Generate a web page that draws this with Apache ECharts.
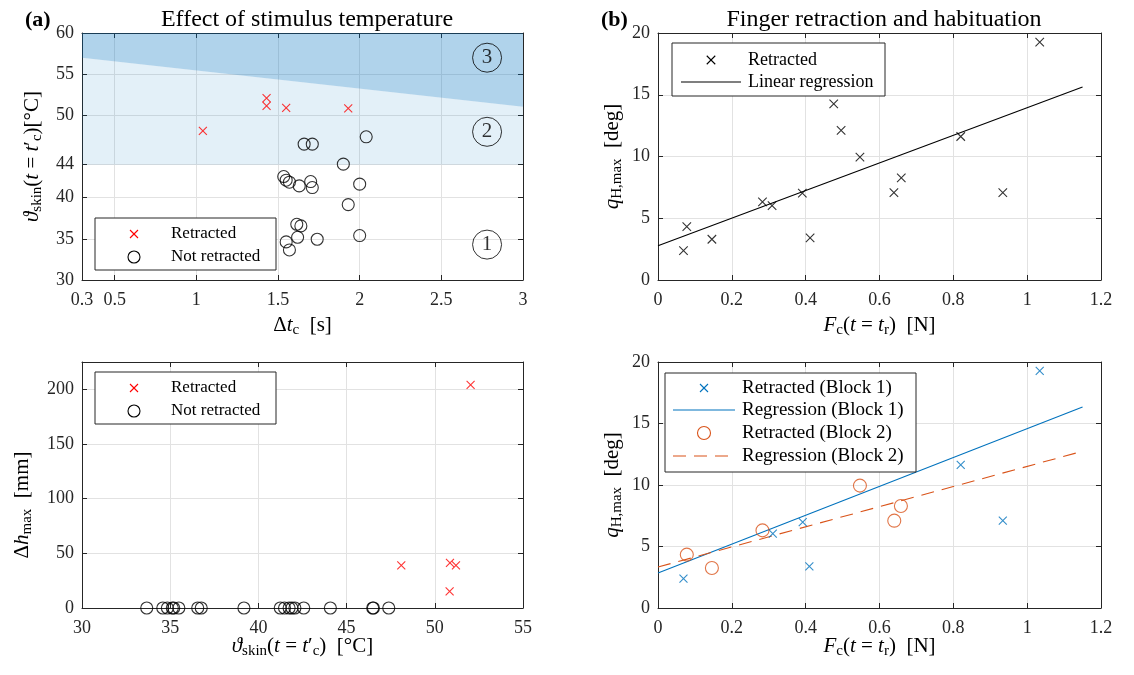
<!DOCTYPE html>
<html><head><meta charset="utf-8">
<script src="https://cdn.jsdelivr.net/npm/echarts@6/dist/echarts.min.js"></script>
<style>html,body{margin:0;padding:0;background:#fff}#c{width:1134px;height:675px}</style>
</head><body><div id="c"></div>
<script>
// ================= DATA =================
// Panel (a) top: effect of stimulus temperature
const aTicksX = [0.3, 0.5, 1, 1.5, 2, 2.5, 3];
const aTicksY = [30, 35, 40, 44, 50, 55, 60];
const aRetDt   = [1.04, 1.43, 1.43, 1.55, 1.93];
const aRetTemp = [48.1, 52.1, 51.15, 50.9, 50.85];
const aNotDt   = [1.66, 1.71, 2.04, 1.90, 1.535, 1.55, 1.57, 1.63, 1.70, 1.71, 2.00, 1.93, 1.615, 1.64, 1.55, 1.57, 1.62, 1.74, 2.00];
const aNotTemp = [46.5, 46.5, 47.39, 44.07, 42.57, 42.12, 41.88, 41.43, 41.96, 41.23, 41.64, 39.16, 36.77, 36.57, 34.63, 33.65, 35.19, 34.95, 35.4];
const zoneFloor = 44;
const zoneCeil = 60;
const zoneBoundaryX = [0.3, 3];
const zoneBoundaryY = [57.0, 51.05];
const zoneLabels = ['1', '2', '3'];
const zoneLabelX = [2.78, 2.78, 2.78];
const zoneLabelY = [34.3, 48.0, 57.0];

// Panel (a) bottom: displacement vs skin temperature
const cTicksX = [30, 35, 40, 45, 50, 55];
const cTicksY = [0, 50, 100, 150, 200];
const cRetTemp = [48.1, 50.86, 51.2, 50.84, 52.03];
const cRetDh   = [39, 41.2, 39, 15.2, 204];
const cNotTemp = [33.67, 34.58, 34.84, 35.12, 35.2, 35.49, 36.56, 36.76, 39.18, 41.24, 41.48, 41.74, 41.9, 42.07, 42.57, 44.08, 46.48, 46.52, 47.39];
const cNotDh   = [0, 0, 0, 0, 0, 0, 0, 0, 0, 0, 0, 0, 0, 0, 0, 0, 0, 0, 0];

// Panel (b) top: finger retraction
const bTicksX = [0, 0.2, 0.4, 0.6, 0.8, 1, 1.2];
const bTicksY = [0, 5, 10, 15, 20];
const bRetF = [0.069, 0.078, 0.146, 0.283, 0.309, 0.391, 0.412, 0.476, 0.496, 0.547, 0.639, 0.659, 0.820, 0.934, 1.034];
const bRetQ = [2.38, 4.32, 3.30, 6.32, 6.03, 7.03, 3.41, 14.27, 12.11, 9.95, 7.08, 8.27, 11.62, 7.08, 19.27];
const bRegF = [0, 1.15];
const bRegQ = [2.78, 15.62];

// Panel (b) bottom: habituation blocks
const dB1F = [0.069, 0.311, 0.392, 0.410, 0.820, 0.934, 1.034];
const dB1Q = [2.38, 6.04, 6.99, 3.39, 11.63, 7.10, 19.27];
const dB2F = [0.078, 0.146, 0.283, 0.547, 0.640, 0.658];
const dB2Q = [4.34, 3.25, 6.31, 9.95, 7.10, 8.29];
const dReg1F = [0, 1.15];
const dReg1Q = [2.85, 16.34];
const dReg2F = [0, 1.15];
const dReg2Q = [3.33, 12.74];

// ================= STYLE =================
const FONT = 'Liberation Serif';
const AX = '#262626';
const GRIDC = '#e2e2e2';
const RED = '#ff0000', BLUE = '#0072bd', ORANGE = '#d95319';
const CROSS = 'path://M0,0L10,10M10,0L0,10';
const zip = (a, b) => a.map((v, i) => [v, b[i]]);

function rich(size) {
  const sub = Math.round(size * 0.7);
  return {
    n: {fontFamily: FONT, fontSize: size, color: '#000', lineHeight: size + 4},
    i: {fontFamily: FONT, fontSize: size, fontStyle: 'italic', color: '#000', lineHeight: size + 4},
    s: {fontFamily: FONT, fontSize: sub, color: '#000', lineHeight: sub, verticalAlign: 'bottom'}
  };
}

function axisPair(kind, grid, min, max, ticks, name, nameGap, namePad) {
  const primaryPos = kind === 'x' ? 'bottom' : 'left';
  const secondaryPos = kind === 'x' ? 'top' : 'right';
  const line = {show: true, onZero: false, lineStyle: {color: AX, width: 1}};
  const tick = {show: true, inside: true, length: 5, customValues: ticks, lineStyle: {color: AX, width: 1}};
  return [
    {type: 'value', gridIndex: grid, position: primaryPos, min, max,
     axisLine: line, axisTick: tick,
     axisLabel: {show: true, customValues: ticks, margin: kind === 'x' ? 11 : 8, color: AX,
                 fontFamily: FONT, fontSize: 18, hideOverlap: false},
     splitLine: {show: true, lineStyle: {color: GRIDC, width: 1}},
     name, nameLocation: 'middle', nameGap, nameMoveOverlap: false,
     nameTextStyle: {fontFamily: FONT, fontSize: 21, color: '#000', rich: rich(21), padding: namePad || 0}},
    {type: 'value', gridIndex: grid, position: secondaryPos, min, max,
     axisLine: line, axisTick: tick, axisLabel: {show: false}, splitLine: {show: false}}
  ];
}

const xAxis = [
  ...axisPair('x', 0, 0.3, 3, aTicksX, '{n|Δ}{i|t}{s|c}{n|  [s]}', 33),
  ...axisPair('x', 1, 0, 1.2, bTicksX, '{i|F}{s|c}{n|(}{i|t}{n| = }{i|t}{s|r}{n|)  [N]}', 33),
  ...axisPair('x', 2, 30, 55, cTicksX, '{i|ϑ}{s|skin}{n|(}{i|t}{n| = }{i|t}{n|′}{s|c}{n|)  [°C]}', 26),
  ...axisPair('x', 3, 0, 1.2, bTicksX, '{i|F}{s|c}{n|(}{i|t}{n| = }{i|t}{s|r}{n|)  [N]}', 26)
];
const yAxis = [
  ...axisPair('y', 0, 30, 60, aTicksY, '{i|ϑ}{s|skin}{n|(}{i|t}{n| = }{i|t}{n|′}{s|c}{n|)[°C]}', 37),
  ...axisPair('y', 1, 0, 20, bTicksY, '{i|q}{s|H,max}{n|  [deg]}', 33),
  ...axisPair('y', 2, 0, 225, cTicksY, '{n|Δ}{i|h}{s|max}{n|  [mm]}', 47, [0, 40, 0, 0]),
  ...axisPair('y', 3, 0, 20, bTicksY, '{i|q}{s|H,max}{n|  [deg]}', 33)
];

function scatter(g, data, symbol, size, color, fill) {
  return {type: 'scatter', xAxisIndex: 2 * g, yAxisIndex: 2 * g, data, symbol, symbolSize: size,
          silent: true, z: 5,
          itemStyle: {color: fill || 'rgba(0,0,0,0)', borderColor: color, borderWidth: 1.1}};
}
function regLine(g, data, color, type) {
  return {type: 'line', xAxisIndex: 2 * g, yAxisIndex: 2 * g, data, symbol: 'none', silent: true, z: 4,
          lineStyle: {color, width: 1.1, type: type || 'solid'}};
}

// zone polygons built from the boundary values
const zonePolys = [
  [[zoneBoundaryX[0], zoneFloor], [zoneBoundaryX[1], zoneFloor], [zoneBoundaryX[1], zoneBoundaryY[1]], [zoneBoundaryX[0], zoneBoundaryY[0]]],
  [[zoneBoundaryX[0], zoneBoundaryY[0]], [zoneBoundaryX[1], zoneBoundaryY[1]], [zoneBoundaryX[1], zoneCeil], [zoneBoundaryX[0], zoneCeil]]
];
const zoneFills = ['rgba(0,114,189,0.11)', 'rgba(0,114,189,0.31)'];

const series = [
  {type: 'custom', xAxisIndex: 0, yAxisIndex: 0, silent: true, z: 1, clip: true,
   data: [[0], [1]],
   renderItem(params, api) {
     const poly = zonePolys[params.dataIndex];
     return {type: 'polygon', shape: {points: poly.map(p => api.coord(p))},
             style: {fill: zoneFills[params.dataIndex]}};
   }},
  {type: 'scatter', xAxisIndex: 0, yAxisIndex: 0, silent: true, z: 3, symbol: 'circle', symbolSize: 29,
   data: zoneLabels.map((t, i) => [zoneLabelX[i], zoneLabelY[i], t]),
   itemStyle: {color: 'rgba(0,0,0,0)', borderColor: '#000', borderWidth: 1},
   label: {show: true, position: 'inside', formatter: p => p.value[2], fontFamily: FONT, fontSize: 21, color: '#000'}},
  scatter(0, zip(aRetDt, aRetTemp), CROSS, 8, RED),
  scatter(0, zip(aNotDt, aNotTemp), 'circle', 12, '#000'),
  scatter(1, zip(bRetF, bRetQ), CROSS, 8.5, '#000'),
  regLine(1, zip(bRegF, bRegQ), '#000'),
  scatter(2, zip(cRetTemp, cRetDh), CROSS, 8, RED),
  scatter(2, zip(cNotTemp, cNotDh), 'circle', 12, '#000'),
  scatter(3, zip(dB1F, dB1Q), CROSS, 8, BLUE),
  regLine(3, zip(dReg1F, dReg1Q), BLUE),
  scatter(3, zip(dB2F, dB2Q), 'circle', 13, ORANGE),
  regLine(3, zip(dReg2F, dReg2Q), ORANGE, [13, 8])
];

// ---------- legends (drawn as graphics) ----------
function legend(box, rows, iconX, lineHalf, textX, fontSize) {
  const Z = 200;
  const els = [{type: 'rect', z: Z, shape: {x: box[0], y: box[1], width: box[2] - box[0], height: box[3] - box[1]},
                style: {fill: '#ffffff', stroke: AX, lineWidth: 1}}];
  rows.forEach(r => {
    const y = r.y;
    if (r.icon === 'x') {
      const h = r.size / 2;
      els.push({type: 'line', z: Z + 1, shape: {x1: iconX - h, y1: y - h, x2: iconX + h, y2: y + h}, style: {stroke: r.color, lineWidth: 1.1}});
      els.push({type: 'line', z: Z + 1, shape: {x1: iconX - h, y1: y + h, x2: iconX + h, y2: y - h}, style: {stroke: r.color, lineWidth: 1.1}});
    } else if (r.icon === 'o') {
      els.push({type: 'circle', z: Z + 1, shape: {cx: iconX, cy: y, r: r.size / 2}, style: {fill: 'none', stroke: r.color, lineWidth: 1.1}});
    } else {
      els.push({type: 'line', z: Z + 1, shape: {x1: iconX - lineHalf, y1: y, x2: iconX + lineHalf, y2: y},
                style: {stroke: r.color, lineWidth: 1.1, lineDash: r.icon === 'dash' ? [13, 8] : null}});
    }
    els.push({type: 'text', z: Z + 1, style: {text: r.text, x: textX, y, fill: '#000', verticalAlign: 'middle',
              font: fontSize + 'px "' + FONT + '"'}});
  });
  return {type: 'group', z: Z, children: els};
}

const graphic = [
  legend([95, 218, 276, 270], [
    {y: 234, icon: 'x', size: 8, color: RED, text: 'Retracted'},
    {y: 257, icon: 'o', size: 12, color: '#000', text: 'Not retracted'}], 134, 20, 171, 17),
  legend([95, 372, 276, 424], [
    {y: 388, icon: 'x', size: 8, color: RED, text: 'Retracted'},
    {y: 411, icon: 'o', size: 12, color: '#000', text: 'Not retracted'}], 134, 20, 171, 17),
  legend([672, 43, 885, 96], [
    {y: 60, icon: 'x', size: 8.5, color: '#000', text: 'Retracted'},
    {y: 82, icon: 'line', color: '#000', text: 'Linear regression'}], 711, 30, 748, 18),
  legend([665, 373, 916, 472], [
    {y: 388, icon: 'x', size: 8, color: BLUE, text: 'Retracted (Block 1)'},
    {y: 410, icon: 'line', color: BLUE, text: 'Regression (Block 1)'},
    {y: 433, icon: 'o', size: 13, color: ORANGE, text: 'Retracted (Block 2)'},
    {y: 456, icon: 'dash', color: ORANGE, text: 'Regression (Block 2)'}], 704, 31, 742, 19)
];

const titleRich = {
  n: {fontFamily: FONT, fontSize: 22, color: '#000'},
  b: {fontFamily: FONT, fontSize: 22, color: '#000', fontWeight: 'bold'}
};
const title = [
  {text: 'Effect of stimulus temperature', left: 302, top: 3, textAlign: 'center',
   textStyle: {fontFamily: FONT, fontSize: 24, fontWeight: 'normal', color: '#000'}},
  {text: 'Finger retraction and habituation', left: 879, top: 3, textAlign: 'center',
   textStyle: {fontFamily: FONT, fontSize: 24, fontWeight: 'normal', color: '#000'}},
  {text: '{n|(}{b|a}{n|)}', left: 20, top: 4, textStyle: {rich: titleRich}},
  {text: '{n|(}{b|b}{n|)}', left: 596, top: 4, textStyle: {rich: titleRich}}
];

const chart = echarts.init(document.getElementById('c'), null, {renderer: 'canvas'});
chart.setOption({
  backgroundColor: '#fff',
  animation: false,
  title,
  grid: [
    {left: 82, top: 33, width: 441, height: 247, containLabel: false, outerBoundsMode: 'none'},
    {left: 658, top: 33, width: 443, height: 247, containLabel: false, outerBoundsMode: 'none'},
    {left: 82, top: 362, width: 441, height: 246, containLabel: false, outerBoundsMode: 'none'},
    {left: 658, top: 362, width: 443, height: 246, containLabel: false, outerBoundsMode: 'none'}
  ],
  xAxis, yAxis, series, graphic
});
</script></body></html>
